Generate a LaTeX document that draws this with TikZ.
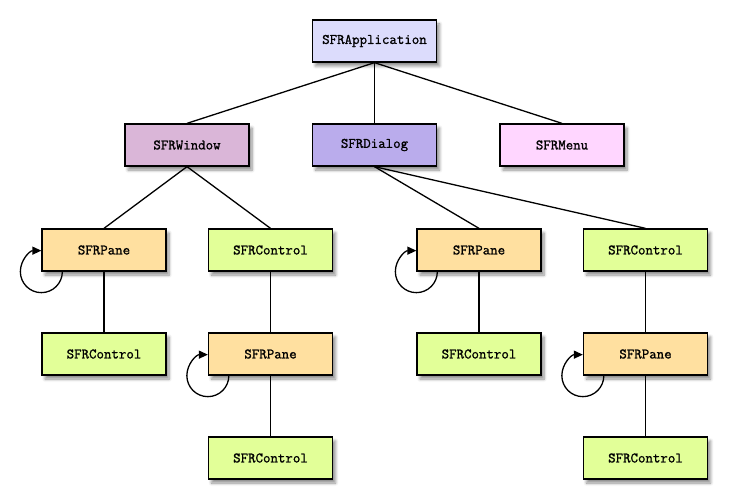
\documentclass[tikz,border=0pt]{standalone}
\usepackage{fontspec}
\newfontfamily\boxfont{Latin Modern Mono}[FakeBold=1.2]
\usetikzlibrary{shadows.blur,arrows.meta}
\definecolor{cApp}{RGB}{220,220,252}
\definecolor{cWin}{RGB}{218,182,216}
\definecolor{cDlg}{RGB}{186,172,236}
\definecolor{cMenu}{RGB}{255,214,255}
\definecolor{cPane}{RGB}{255,224,160}
\definecolor{cCtl}{RGB}{226,255,152}
\tikzset{
  box/.style={draw=black, line width=1.3pt, minimum width=124pt, minimum height=42pt,
    inner sep=0pt, font=\boxfont\bfseries\fontsize{14.5}{16}\selectfont,
    blur shadow={shadow xshift=3pt, shadow yshift=-4pt, shadow opacity=45, shadow blur steps=6, shadow blur radius=3pt}},
  app/.style={box, fill=cApp},
  win/.style={box, fill=cWin},
  dlg/.style={box, fill=cDlg},
  menu/.style={box, fill=cMenu},
  pane/.style={box, fill=cPane},
  ctl/.style={box, fill=cCtl},
  link/.style={line width=1.3pt},
  selfloop/.style={line width=1.3pt, -{Triangle[length=9pt,width=8pt]}},
}
\begin{document}
\begin{tikzpicture}[x=1pt,y=-1pt]
\useasboundingbox (0,0) rectangle (750,500);
\node[app]  (app) at (374.5,41) {SFRApplication};
\node[win]  (win) at (187,145) {SFRWindow};
\node[dlg]  (dlg) at (374.5,145) {SFRDialog};
\node[menu] (men) at (562,145) {SFRMenu};
\node[pane] (p1) at (104,250) {SFRPane};
\node[ctl]  (c1) at (270.5,250) {SFRControl};
\node[pane] (p3) at (479,250) {SFRPane};
\node[ctl]  (c3) at (645.5,250) {SFRControl};
\node[ctl]  (c2) at (104,354) {SFRControl};
\node[pane] (p2) at (270.5,354) {SFRPane};
\node[ctl]  (c4) at (479,354) {SFRControl};
\node[pane] (p4) at (645.5,354) {SFRPane};
\node[ctl]  (c5) at (270.5,458) {SFRControl};
\node[ctl]  (c6) at (645.5,458) {SFRControl};
\draw[link] (app.south) -- (win.north);
\draw[link] (app.south) -- (dlg.north);
\draw[link] (app.south) -- (men.north);
\draw[link] (win.south) -- (p1.north);
\draw[link] (win.south) -- (c1.north);
\draw[link] (dlg.south) -- (p3.north);
\draw[link] (dlg.south) -- (c3.north);
\draw[link] (p1.south) -- (c2.north);
\draw[link] (c1.south) -- (p2.north);
\draw[link] (p2.south) -- (c5.north);
\draw[link] (p3.south) -- (c4.north);
\draw[link] (c3.south) -- (p4.north);
\draw[link] (p4.south) -- (c6.north);
\begin{scope}[y=1pt]
\foreach \p in {p1,p2,p3,p4}{
  \draw[selfloop] ([xshift=21pt]\p.south west) arc[start angle=0, end angle=-270, radius=21pt];
}
\end{scope}
\end{tikzpicture}
\end{document}
